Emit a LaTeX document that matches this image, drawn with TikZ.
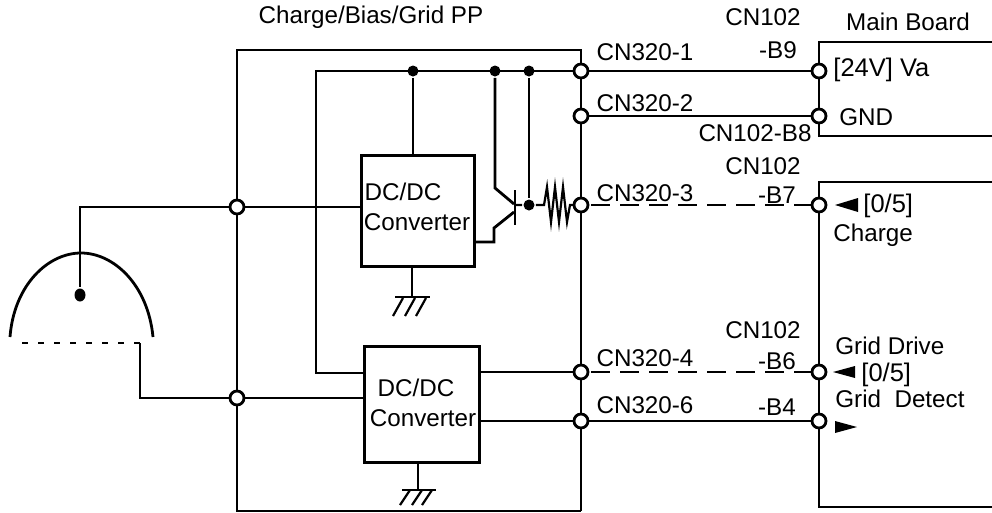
\documentclass[tikz,border=0pt]{standalone}
\usepackage{fontspec}
\setmainfont{Liberation Sans}
\usetikzlibrary{positioning,shapes.geometric}
\begin{document}
\begin{tikzpicture}[x=1pt, y=-1pt, line width=2.8pt,
      every node/.style = {font=\fontsize{24.2}{26}\selectfont, inner sep=0pt},
      term/.style = {shape=circle, draw, fill=white, minimum size=14pt},
      joint/.style = {shape=circle, fill=black, minimum size=11pt},
      conv/.style = {shape=rectangle, draw, fill=white, anchor=north west},
      dash wire/.style = {dashed, dash pattern=on 19pt off 10pt},
      level label/.style = {anchor=west, font=\fontsize{25.5}{26}\selectfont},
      tip/.style = {fill=black, draw=none}]
      \useasboundingbox (0,0) rectangle (992,512);
      % outer board
      \draw (581,511) -- (237,511) -- (237,50) -- (581,50) -- (581,511);
      \draw (992,42) -- (819,42) -- (819,136) -- (992,136);
      \draw (992,182) -- (819,182) -- (819,507) -- (992,507);
      % wires under the terminals
      \coordinate (base) at (515,205);
      \node[conv, minimum width=113pt, minimum height=111pt] (conva) at (360,154) {};
      \node[conv, minimum width=115pt, minimum height=116pt] (convb) at (363,345) {};
      \node[joint] (ja) at (413,71) {};
      \node[joint] (jb) at (495,71) {};
      \node[joint] (jc) at (529,71) {};
      \node[joint] (jd) at (529,205) {};
      \node[shape=ellipse, fill=black, minimum width=11pt, minimum height=13pt] (anode) at (80,295) {};
      \coordinate (t1) at (581,71);
      \coordinate (t2) at (581,116);
      \coordinate (t3) at (581,205);
      \coordinate (t4) at (581,372);
      \coordinate (t6) at (581,421);
      \coordinate (b9) at (819,71);
      \coordinate (b8) at (819,116);
      \coordinate (b7) at (819,205);
      \coordinate (b6) at (819,372);
      \coordinate (b4) at (819,421);
      \coordinate (la) at (237,207);
      \coordinate (lb) at (237,398);
      \draw (t1) -- (b9);
      \draw (t2) -- (b8);
      \draw[dash wire] (591,205) -- (b7);
      \draw[dash wire] (591,372) -- (b6);
      \draw (t6) -- (b4);
      \draw (t1) -- (316,71) -- (316,373) -- (convb.west |- 0,373);
      \draw (ja) -- (ja |- conva.north);
      \draw (jc) -- (jd);
      \draw (la) -- (conva.west |- la);
      \draw (la) -- (80,207) -- (anode);
      \draw (lb) -- (convb.west |- lb);
      \draw (lb) -- (140,398) -- (140,343);
      \draw (convb.east |- t4) -- (t4);
      \draw (convb.east |- t6) -- (t6);
      % transistor
      \draw (jb) -- (495,188) -- (514,204);
      \draw (514,212) -- (494,228) -- (494,242) -- (conva.east |- 0,242);
      \draw (515,190) -- (515,225);
      \draw[line width=2.2pt] (base) -- (jd) -- (544,205) -- (547,187) -- (551,222) -- (555,187) -- (559,222)
        -- (563,187) -- (567,222) -- (570,205) -- (t3);
      % terminals
      \foreach \tname in {t1,t2,t3,t4,t6,b9,b8,b7,b6,b4,la,lb}
        \node[term] at (\tname) {};
      % tube
      \draw (10,337) .. controls (14,285) and (48,253) .. (81,253) .. controls (114,253) and (148,285) .. (153,337);
      \draw[dashed, dash pattern=on 6pt off 10pt] (22,343) -- (140,343);
      % grounds
      \draw (412,265) -- (412,297);
      \draw (395,297) -- (430,297);
      \foreach \gx in {403,415,426} \draw[line width=2.2pt] (\gx,298) -- (\gx-10,316);
      \draw (418,461) -- (418,490);
      \draw (402,490) -- (436,490);
      \foreach \gx in {410,422,432} \draw[line width=2.2pt] (\gx,490) -- (\gx-10,505);
      % signal tips
      \fill[tip] (858,198) -- (858,212) -- (835,205) -- cycle;
      \fill[tip] (855,366) -- (855,378) -- (833,372) -- cycle;
      \fill[tip] (835,421) -- (835,433) -- (857,427) -- cycle;
      % labels
      \node (title) at (371,17) {Charge/Bias/Grid PP};
      \node (cna) at (763,17) {CN102};
      \node (mainb) at (908,22) {Main Board};
      \node (cnb9) at (778,50) {-B9};
      \node (lt1) at (645,52) {CN320-1};
      \node (lt2) at (645,103) {CN320-2};
      \node (cnb8) at (755,133) {CN102-B8};
      \node (cnb) at (763,166) {CN102};
      \node (cnb7) at (777,195) {-B7};
      \node (lt3) at (645,193) {CN320-3};
      \node (cnc) at (763,330) {CN102};
      \node (cnb6) at (777,361) {-B6};
      \node (cnb4) at (777,407) {-B4};
      \node (lt4) at (645,358) {CN320-4};
      \node (lt6) at (645,405) {CN320-6};
      \node[level label] (va) at (832,70) {[24V] Va};
      \node[anchor=west] (gnd) at (838,117) {GND};
      \node[level label] (cha) at (862,206) {[0/5]};
      \node[anchor=west] (chg) at (832,235) {Charge};
      \node[anchor=west] (gdr) at (834,346) {Grid Drive};
      \node[level label] (chb) at (860,375) {[0/5]};
      \node[anchor=west] (gde) at (834,399) {Grid\ \ Detect};
      \node (dca) at (403,192) {DC/DC};
      \node (coa) at (417,222) {Converter};
      \node (dcb) at (416,388) {DC/DC};
      \node (cob) at (423,418) {Converter};
    \end{tikzpicture}
\end{document}
